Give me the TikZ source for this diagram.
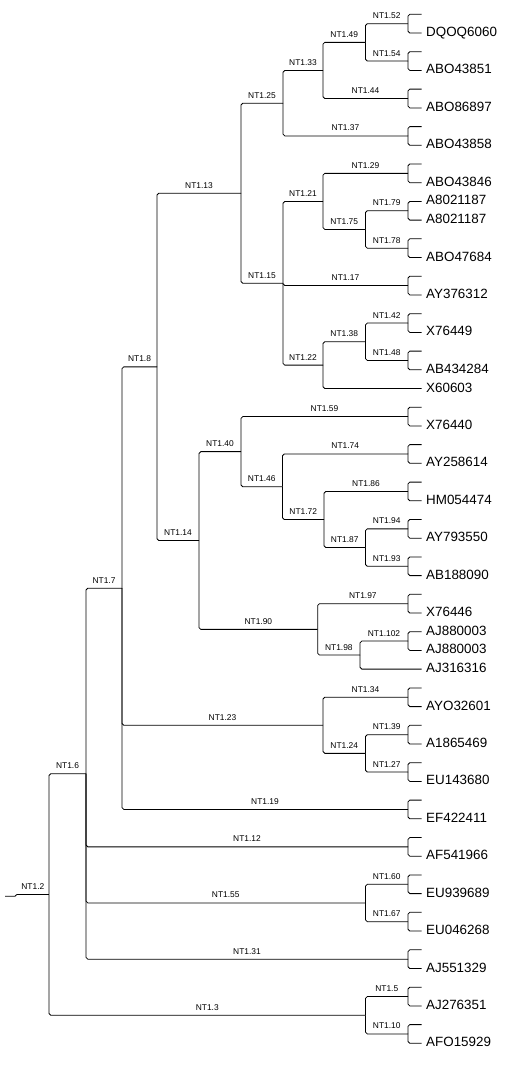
\documentclass[tikz,border=0pt]{standalone}
\usepackage{fontspec}
\setmainfont{Liberation Sans}
\begin{document}
\begin{tikzpicture}[x=1pt,y=-1pt,
  tree/.style={draw=black,line width=0.8pt,rounded corners=1.8pt},
  toleaf/.style={shorten >=4.3pt},
  lab/.style={pos=0.75,anchor=south,inner sep=0pt,yshift=4.6pt,
    font=\fontsize{8.4}{10}\selectfont,text height=0.72em,text depth=0pt},
  leaf/.style={anchor=west,inner sep=0pt,
    font=\fontsize{13.4}{16}\selectfont,text height=0.716em,text depth=0pt}]
\fill[white] (0,0) rectangle (512,1066);
\useasboundingbox (0,0) rectangle (512,1066);

% terminal pair: name, top y, bottom y, top text (may be empty), bottom text
\newcommand\pairnode[5]{%
  \coordinate (#1) at (408,{(#2+#3)/2});
  \if\relax\detokenize{#4}\relax
    \coordinate (#1-a) at (421.7,#2);
    \draw[tree] (#1) |- (#1-a);
  \else
    \node[leaf] (#1-a) at (426,#2) {#4};
    \draw[tree,toleaf] (#1) |- (#1-a);
  \fi
  \node[leaf] (#1-b) at (426,#3) {#5};
  \draw[tree,toleaf] (#1) |- (#1-b);
}

% terminal pairs
\pairnode{t52}{14.3}{33.0}{}{DQOQ6060}
\pairnode{t54}{51.7}{70.4}{}{ABO43851}
\pairnode{t44}{89.1}{107.9}{}{ABO86897}
\pairnode{t37}{126.6}{145.3}{}{ABO43858}
\pairnode{t29}{164.0}{182.7}{}{ABO43846}
\pairnode{t79}{201.4}{220.1}{A8021187}{A8021187}
\pairnode{t78}{238.8}{257.5}{}{ABO47684}
\pairnode{t17}{276.2}{294.9}{}{AY376312}
\pairnode{t42}{313.7}{332.4}{}{X76449}
\pairnode{t48}{351.1}{369.8}{}{AB434284}
\node[leaf] (x60603) at (426,388.5) {X60603};
\pairnode{t59}{407.2}{425.9}{}{X76440}
\pairnode{t74}{444.6}{463.3}{}{AY258614}
\pairnode{t86}{482.1}{500.8}{}{HM054474}
\pairnode{t94}{519.5}{538.2}{}{AY793550}
\pairnode{t93}{556.9}{575.6}{}{AB188090}
\pairnode{t97}{594.3}{613.0}{}{X76446}
\pairnode{t102}{631.7}{650.4}{AJ880003}{AJ880003}
\node[leaf] (aj316316) at (426,669.1) {AJ316316};
\pairnode{t34}{687.9}{706.6}{}{AYO32601}
\pairnode{t39}{725.3}{744.0}{}{A1865469}
\pairnode{t27}{762.7}{781.4}{}{EU143680}
\pairnode{t19}{800.1}{818.8}{}{EF422411}
\pairnode{t12}{837.5}{856.2}{}{AF541966}
\pairnode{t60}{874.9}{893.6}{}{EU939689}
\pairnode{t67}{912.3}{931.0}{}{EU046268}
\pairnode{t31}{949.8}{968.5}{}{AJ551329}
\pairnode{t5}{987.2}{1005.9}{}{AJ276351}
\pairnode{t10}{1024.6}{1043.3}{}{AFO15929}

% inner nodes
\coordinate (t49) at (365.5,42.35);
\coordinate (t33) at (323,70.43);
\coordinate (t25) at (283,103.19);
\coordinate (t75) at (365.5,229.45);
\coordinate (t21) at (323,201.4);
\coordinate (t38) at (365.5,341.75);
\coordinate (t22) at (323,365.13);
\coordinate (t15) at (283,283.27);
\coordinate (t13) at (241,193.23);
\coordinate (t87) at (365.5,547.55);
\coordinate (t72) at (324,519.5);
\coordinate (t46) at (282.5,486.73);
\coordinate (t40) at (241,451.64);
\coordinate (t98) at (360,655.08);
\coordinate (t90) at (317.7,629.37);
\coordinate (t14) at (199,540.5);
\coordinate (t8) at (157,366.87);
\coordinate (t24) at (365.5,753.35);
\coordinate (t23) at (323,725.3);
\coordinate (t7) at (122,588.16);
\coordinate (t55) at (365.5,902.95);
\coordinate (t6) at (86,773.66);
\coordinate (t3) at (365.5,1015.25);
\coordinate (t2) at (49,894.46);
\coordinate (t2in) at (16.7,894.46);
\coordinate (rootstub) at (5,896.3);

% branches
\draw[tree] (rootstub) -| (t2in);
\draw[tree] (t2in) -- node[lab,pos=0.5]{NT1.2} (t2);
\draw[tree] (t2) |- node[lab]{NT1.6} (t6);
\draw[tree] (t2) |- node[lab]{NT1.3} (t3);
\draw[tree] (t6) |- node[lab]{NT1.7} (t7);
\draw[tree] (t6) |- node[lab]{NT1.12} (t12);
\draw[tree] (t6) |- node[lab]{NT1.55} (t55);
\draw[tree] (t6) |- node[lab]{NT1.31} (t31);
\draw[tree] (t7) |- node[lab]{NT1.8} (t8);
\draw[tree] (t7) |- node[lab]{NT1.23} (t23);
\draw[tree] (t7) |- node[lab]{NT1.19} (t19);
\draw[tree] (t8) |- node[lab]{NT1.13} (t13);
\draw[tree] (t8) |- node[lab]{NT1.14} (t14);
\draw[tree] (t13) |- node[lab]{NT1.25} (t25);
\draw[tree] (t13) |- node[lab]{NT1.15} (t15);
\draw[tree] (t25) |- node[lab]{NT1.33} (t33);
\draw[tree] (t25) |- node[lab]{NT1.37} (t37);
\draw[tree] (t33) |- node[lab]{NT1.49} (t49);
\draw[tree] (t33) |- node[lab]{NT1.44} (t44);
\draw[tree] (t49) |- node[lab]{NT1.52} (t52);
\draw[tree] (t49) |- node[lab]{NT1.54} (t54);
\draw[tree] (t15) |- node[lab]{NT1.21} (t21);
\draw[tree] (t15) |- node[lab]{NT1.17} (t17);
\draw[tree] (t15) |- node[lab]{NT1.22} (t22);
\draw[tree] (t21) |- node[lab]{NT1.29} (t29);
\draw[tree] (t21) |- node[lab]{NT1.75} (t75);
\draw[tree] (t75) |- node[lab]{NT1.79} (t79);
\draw[tree] (t75) |- node[lab]{NT1.78} (t78);
\draw[tree] (t22) |- node[lab]{NT1.38} (t38);
\draw[tree,toleaf] (t22) |- (x60603);
\draw[tree] (t38) |- node[lab]{NT1.42} (t42);
\draw[tree] (t38) |- node[lab]{NT1.48} (t48);
\draw[tree] (t14) |- node[lab]{NT1.40} (t40);
\draw[tree] (t14) |- node[lab]{NT1.90} (t90);
\draw[tree] (t40) |- node[lab]{NT1.59} (t59);
\draw[tree] (t40) |- node[lab]{NT1.46} (t46);
\draw[tree] (t46) |- node[lab]{NT1.74} (t74);
\draw[tree] (t46) |- node[lab]{NT1.72} (t72);
\draw[tree] (t72) |- node[lab]{NT1.86} (t86);
\draw[tree] (t72) |- node[lab]{NT1.87} (t87);
\draw[tree] (t87) |- node[lab]{NT1.94} (t94);
\draw[tree] (t87) |- node[lab]{NT1.93} (t93);
\draw[tree] (t90) |- node[lab]{NT1.97} (t97);
\draw[tree] (t90) |- node[lab]{NT1.98} (t98);
\draw[tree] (t98) |- node[lab]{NT1.102} (t102);
\draw[tree,toleaf] (t98) |- (aj316316);
\draw[tree] (t23) |- node[lab]{NT1.34} (t34);
\draw[tree] (t23) |- node[lab]{NT1.24} (t24);
\draw[tree] (t24) |- node[lab]{NT1.39} (t39);
\draw[tree] (t24) |- node[lab]{NT1.27} (t27);
\draw[tree] (t55) |- node[lab]{NT1.60} (t60);
\draw[tree] (t55) |- node[lab]{NT1.67} (t67);
\draw[tree] (t3) |- node[lab]{NT1.5} (t5);
\draw[tree] (t3) |- node[lab]{NT1.10} (t10);
\end{tikzpicture}
\end{document}
